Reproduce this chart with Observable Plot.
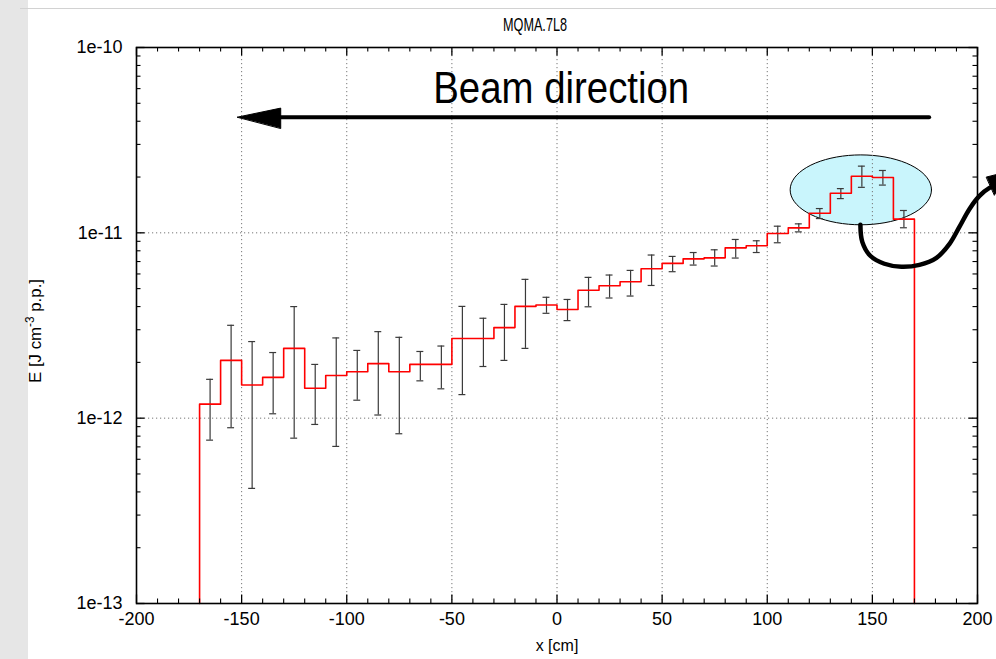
<!DOCTYPE html>
<html>
<head>
<meta charset="utf-8">
<script src="https://cdn.jsdelivr.net/npm/d3@7"></script>
<script src="https://cdn.jsdelivr.net/npm/@observablehq/plot@0.6"></script>
<style>
  html, body { margin: 0; padding: 0; background: #fff; width: 996px; height: 659px; overflow: hidden; }
  #wrap { position: relative; width: 996px; height: 659px; }
  #strip { position: absolute; left: 0; top: 0; width: 28px; height: 659px; background: #e6e6e6; }
  #rule { position: absolute; left: 20px; top: 8px; width: 976px; height: 1px; background: #d2d2d2; }
  #chart { position: absolute; left: 0; top: 0; }
</style>
</head>
<body>
<div id="wrap"><div id="strip"></div><div id="rule"></div><div id="chart"></div></div>
<script>
// Energy deposition along the magnet, 10 cm bins
const binLow  = [-170,-160,-150,-140,-130,-120,-110,-100,-90,-80,-70,-60,-50,-40,-30,-20,-10,
                 0,10,20,30,40,50,60,70,80,90,100,110,120,130,140,150,160];
const binHigh = [-160,-150,-140,-130,-120,-110,-100,-90,-80,-70,-60,-50,-40,-30,-20,-10,0,
                 10,20,30,40,50,60,70,80,90,100,110,120,130,140,150,160,170];
const energy  = [1.19e-12,2.05e-12,1.51e-12,1.66e-12,2.38e-12,1.45e-12,1.70e-12,1.78e-12,
                 1.97e-12,1.78e-12,1.95e-12,1.95e-12,2.69e-12,2.69e-12,3.08e-12,4.01e-12,4.08e-12,
                 3.86e-12,4.90e-12,5.18e-12,5.45e-12,6.40e-12,6.84e-12,7.24e-12,7.33e-12,8.30e-12,
                 8.51e-12,9.92e-12,1.064e-11,1.276e-11,1.636e-11,2.02e-11,1.99e-11,1.185e-11];
const errHigh = [1.62e-12,3.17e-12,2.59e-12,2.26e-12,4.00e-12,1.95e-12,2.71e-12,2.32e-12,
                 2.93e-12,2.73e-12,2.29e-12,2.45e-12,4.01e-12,3.46e-12,4.11e-12,5.61e-12,4.49e-12,
                 4.37e-12,5.75e-12,5.92e-12,6.27e-12,7.59e-12,7.46e-12,7.83e-12,8.10e-12,9.21e-12,
                 9.06e-12,1.086e-11,1.118e-11,1.352e-11,1.732e-11,2.29e-11,2.17e-11,1.32e-11];
const errLow  = [7.61e-13,8.88e-13,4.18e-13,1.056e-12,7.80e-13,9.25e-13,7.04e-13,1.25e-12,
                 1.04e-12,8.24e-13,1.59e-12,1.44e-12,1.34e-12,1.90e-12,2.05e-12,2.38e-12,3.68e-12,
                 3.36e-12,3.99e-12,4.45e-12,4.56e-12,5.20e-12,6.17e-12,6.70e-12,6.62e-12,7.31e-12,
                 7.83e-12,8.84e-12,1.012e-11,1.194e-11,1.530e-11,1.76e-11,1.81e-11,1.065e-11];

// Axis ticks
const xTicks = [-200,-150,-100,-50,0,50,100,150,200];
const xTickLabels = ["-200","-150","-100","-50","0","50","100","150","200"];
const yTicks = [1e-13,1e-12,1e-11,1e-10];
const yTickLabels = ["1e-13","1e-12","1e-11","1e-10"];
const xGrid = [-150,-100,-50,0,50,100,150];
const yGrid = [1e-12,1e-11];

// Annotation geometry (data units)
const beamLabel = {x: 2, y: 6.0e-11, text: "Beam direction"};
const beamShaft = [{x: 177, y: 4.21e-11}, {x: -140, y: 4.21e-11}];
const beamHead  = [{x: -152, y: 4.21e-11}, {x: -131.4, y: 4.71e-11}, {x: -131.4, y: 3.67e-11}];
const peakZone  = {cx: 144.5, cy: 1.706e-11, rx: 33.6, ryDecades: 0.1885};
const hookPath  = [
  {x: 144.3, y: 1.104e-11}, {x: 145.2, y: 8.94e-12}, {x: 149.0, y: 7.52e-12}, {x: 155.7, y: 6.81e-12},
  {x: 163.8, y: 6.56e-12}, {x: 172.4, y: 6.72e-12}, {x: 180.5, y: 7.33e-12}, {x: 186.7, y: 8.72e-12},
  {x: 191.4, y: 1.077e-11}, {x: 196.2, y: 1.346e-11}, {x: 200.95, y: 1.582e-11}, {x: 205.7, y: 1.747e-11},
  {x: 210.5, y: 1.836e-11}
];
const hookHead  = [{x: 204.3, y: 2.0e-11}, {x: 213.8, y: 2.13e-11}, {x: 208.1, y: 1.60e-11}];

// Derived tables
const bins = energy.map((v, i) => ({
  lo: binLow[i], hi: binHigh[i], mid: (binLow[i] + binHigh[i]) / 2, v, top: errHigh[i], bot: errLow[i]
}));
const yFloor = 1e-13;
const steps = [{x: binLow[0], y: yFloor}]
  .concat(bins.map(b => ({x: b.lo, y: b.v})))
  .concat([{x: binHigh[binHigh.length - 1], y: energy[energy.length - 1]},
           {x: binHigh[binHigh.length - 1], y: yFloor}]);
const capHalf = 1.65;
const caps = bins.flatMap(b => [
  {x1: b.mid - capHalf, x2: b.mid + capHalf, y: b.top},
  {x1: b.mid - capHalf, x2: b.mid + capHalf, y: b.bot}
]);
const ellipse = d3.range(0, 73).map(k => {
  const t = (k / 72) * 2 * Math.PI;
  return {x: peakZone.cx + peakZone.rx * Math.cos(t),
          y: Math.pow(10, Math.log10(peakZone.cy) + peakZone.ryDecades * Math.sin(t))};
});

// Minor ticks
const xMinor = d3.range(-200, 201, 10).filter(d => d % 50 !== 0);
const yMinor = [-13, -12, -11].flatMap(e => d3.range(2, 10).map(m => m * Math.pow(10, e)));

const W = 996, H = 659, mL = 136, mR = 19, mT = 47, mB = 56;
const FW = W - mL - mR, FH = H - mT - mB;
const majorLen = 8.5, minorLen = 4.5;

const chart = Plot.plot({
  width: W, height: H,
  marginLeft: mL, marginRight: mR, marginTop: mT, marginBottom: mB,
  x: {domain: [-200, 200]},
  y: {type: "log", domain: [1e-13, 1e-10]},
  style: {fontFamily: "'Liberation Sans', Arial, Helvetica, sans-serif", fontSize: "18px",
          background: "transparent", color: "black", overflow: "visible"},
  marks: [
    // highlighted peak region
    Plot.line(ellipse, {x: "x", y: "y", fill: "#c9f5fc", stroke: "black", strokeWidth: 1, curve: "linear-closed"}),
    Plot.gridX(xGrid, {stroke: "#777", strokeOpacity: 1, strokeDasharray: "1.2,2.8", strokeWidth: 1}),
    Plot.gridY(yGrid, {stroke: "#777", strokeOpacity: 1, strokeDasharray: "1.2,2.8", strokeWidth: 1}),
    // error bars
    Plot.ruleX(bins, {x: "mid", y1: "bot", y2: "top", stroke: "#3a3a3a", strokeWidth: 1.2}),
    Plot.ruleY(caps, {x1: "x1", x2: "x2", y: "y", stroke: "#3a3a3a", strokeWidth: 1.2}),
    // histogram
    Plot.line(steps, {x: "x", y: "y", curve: "step-after", stroke: "#ff0000", strokeWidth: 1.6}),
    // frame and inward ticks on all four sides
    Plot.frame({stroke: "black", strokeWidth: 1.6}),
    Plot.tickX(xTicks, {insetTop: FH - majorLen, stroke: "black", strokeWidth: 1.3}),
    Plot.tickX(xTicks, {insetBottom: FH - majorLen, stroke: "black", strokeWidth: 1.3}),
    Plot.tickX(xMinor, {insetTop: FH - minorLen, stroke: "black", strokeWidth: 1.1}),
    Plot.tickX(xMinor, {insetBottom: FH - minorLen, stroke: "black", strokeWidth: 1.1}),
    Plot.tickY(yTicks, {insetRight: FW - majorLen, stroke: "black", strokeWidth: 1.3}),
    Plot.tickY(yTicks, {insetLeft: FW - majorLen, stroke: "black", strokeWidth: 1.3}),
    Plot.tickY(yMinor, {insetRight: FW - minorLen, stroke: "black", strokeWidth: 1.1}),
    Plot.tickY(yMinor, {insetLeft: FW - minorLen, stroke: "black", strokeWidth: 1.1}),
    // tick labels
    Plot.axisX(xTicks, {tickSize: 0, tickPadding: 9, fontSize: 18, label: null, fill: "black",
                        tickFormat: d => xTickLabels[xTicks.indexOf(d)]}),
    Plot.axisY(yTicks, {tickSize: 0, tickPadding: 14, fontSize: 18, label: null, fill: "black",
                        tickFormat: d => yTickLabels[yTicks.indexOf(d)]}),
    Plot.text(["x [cm]"], {frameAnchor: "bottom", dy: 47, fontSize: 16, fill: "black", className: "xlab"}),
    Plot.text(["MQMA.7L8"], {frameAnchor: "top", dy: -30, dx: -22, fontSize: 19, fill: "black", className: "ttl"}),
    // beam direction annotation
    Plot.text([beamLabel], {x: "x", y: "y", text: "text", fontSize: 44, fill: "black",
                            textAnchor: "middle", lineAnchor: "middle", className: "beam"}),
    Plot.line(beamShaft, {x: "x", y: "y", stroke: "black", strokeWidth: 4}),
    Plot.line(beamHead, {x: "x", y: "y", fill: "black", stroke: "black", strokeWidth: 1, curve: "linear-closed"}),
    // hook from the peak region
    Plot.line(hookPath, {x: "x", y: "y", stroke: "black", strokeWidth: 4.5, curve: "catmull-rom"}),
    Plot.line(hookHead, {x: "x", y: "y", fill: "black", stroke: "black", strokeWidth: 1, curve: "linear-closed"})
  ]
});

document.getElementById("chart").appendChild(chart);
const svg = d3.select(chart);

// condensed lettering for the large label and the title
svg.selectAll("g.beam text").attr("textLength", 256).attr("lengthAdjust", "spacingAndGlyphs");
svg.selectAll("g.ttl text").attr("textLength", 64).attr("lengthAdjust", "spacingAndGlyphs");

// rotated y-axis title with superscript
const ylab = svg.append("text")
  .attr("transform", `translate(41,${mT + FH / 2 + 6}) rotate(-90)`)
  .attr("text-anchor", "middle")
  .attr("font-size", 17)
  .attr("fill", "black")
  .attr("textLength", 104)
  .attr("lengthAdjust", "spacingAndGlyphs");
ylab.append("tspan").text("E [J cm");
ylab.append("tspan").attr("dy", -7).attr("font-size", 12).text("-3");
ylab.append("tspan").attr("dy", 7).text(" p.p.]");
</script>
</body>
</html>
